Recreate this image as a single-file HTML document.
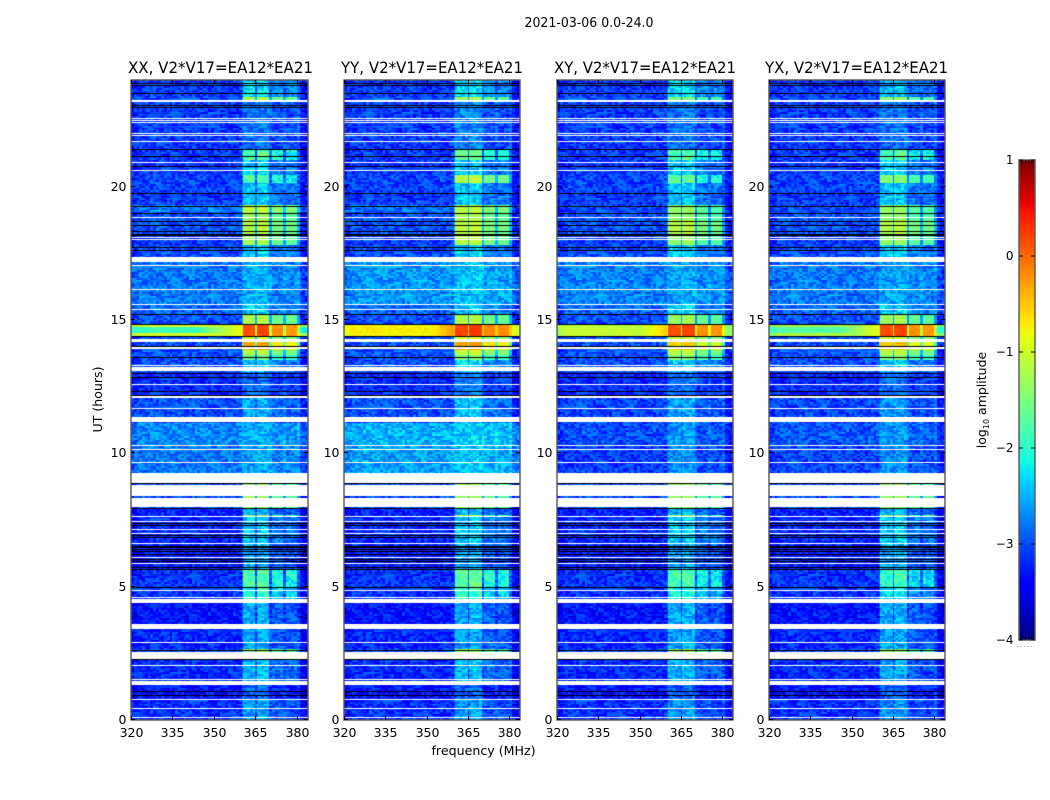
<!DOCTYPE html>
<html lang="en">
<head>
<meta charset="utf-8">
<title>2021-03-06 0.0-24.0</title>
<style>
html,body{margin:0;padding:0;background:#fff;}
#figure{position:relative;width:1050px;height:800px;overflow:hidden;background:#fff;font-family:"DejaVu Sans","Liberation Sans",sans-serif;}
canvas{position:absolute;display:block;}
svg{position:absolute;left:0;top:0;}
text{fill:#000;font-family:"DejaVu Sans","Liberation Sans",sans-serif;}
</style>
</head>
<body>
<div id="figure">
  <svg id="overlay" width="1050" height="800" viewBox="0 0 1050 800" xmlns="http://www.w3.org/2000/svg">
    <text x="589" y="27" font-size="13" text-anchor="middle" textLength="129" lengthAdjust="spacingAndGlyphs">2021-03-06 0.0-24.0</text>
    <text x="483.5" y="755" font-size="12.5" text-anchor="middle" textLength="104" lengthAdjust="spacingAndGlyphs">frequency (MHz)</text>
    <text transform="translate(102,399.5) rotate(-90)" font-size="12.5" text-anchor="middle" textLength="66" lengthAdjust="spacingAndGlyphs">UT (hours)</text>
    <text transform="translate(986,400) rotate(-90)" font-size="12.5" text-anchor="middle">log<tspan font-size="8" dy="3">10</tspan><tspan dy="-3"> amplitude</tspan></text>
    <line x1="1017" y1="646.5" x2="1035" y2="646.5" stroke="#999" stroke-width="1" stroke-dasharray="1 2.5"/>
  </svg>
</div>
<script>
// Axis values
const frequencyTicksMHz = [320, 335, 350, 365, 380];
const timeTicksHours = [0, 5, 10, 15, 20];
const colorbarTicks = [1, 0, -1, -2, -3, -4];
const polarizations = ['XX', 'YY', 'XY', 'YX'];

// Time bands: start hour of each band, and per-panel log10 amplitude of the quiet background
const bandStartHours = [0, .75, 1.3, 2.3, 2.65, 3.4, 4.4, 5, 5.65, 6.55, 7.6, 7.7, 7.94, 9.25, 10.3, 11.15, 12.19, 13.05, 13.5, 13.69, 13.88, 14.18, 14.4, 14.5, 14.75, 14.85, 15.2, 15.57, 17.37, 17.82, 18.2, 18.76, 19.06, 19.32, 19.89, 20.15, 20.45, 21, 21.39, 23.23, 23.38];
const backgroundXX = [-3.15, -3.3, -3.2, -3, -3.2, -3.3, -3.15, -3.15, -3.3, -3.2, -3.2, -3.25, -3, -2.8, -2.7, -3, -3.2, -3, -3, -3, -3, -3, -1, -1.9, -1, -3, -2.9, -2.8, -3, -3.1, -3, -3, -2.8, -3.1, -3.05, -3.05, -3.1, -3.1, -3.1, -3, -3.1];
const backgroundYY = [-3.15, -3.3, -3.2, -3, -3.2, -3.3, -3.15, -3.15, -3.3, -3.2, -3.2, -3.25, -3, -2.6, -2.5, -3, -3.2, -3, -3, -3, -3, -3, -.75, -.7, -.75, -3, -2.9, -2.65, -3, -3.1, -3, -3, -2.85, -3.1, -3.05, -3.05, -3.1, -3.1, -3.1, -3, -3.1];
const backgroundXY = [-3.15, -3.3, -3.2, -3, -3.2, -3.3, -3.15, -3.15, -3.3, -3.2, -3.2, -3.25, -3, -3.1, -3, -3.05, -3.2, -3, -3, -3, -3, -3, -1.05, -1.05, -1.15, -3, -2.9, -2.75, -3, -3.1, -3, -3, -3.05, -3.1, -3.05, -3.05, -3.1, -3.1, -3.1, -3, -3.1];
const backgroundYX = [-3.15, -3.3, -3.2, -3, -3.2, -3.3, -3.15, -3.15, -3.3, -3.2, -3.2, -3.25, -3, -3.05, -2.95, -3.05, -3.2, -3, -3, -3, -3, -3, -1.2, -1.75, -1.25, -3, -2.9, -2.8, -3, -3.1, -3, -3, -3.05, -3.1, -3.05, -3.05, -3.1, -3.1, -3.1, -3, -3.1];

// Per-panel log10 amplitude inside the bright 360-380 MHz subbands
const signalXX = [-2.6, -2.9, -2.5, -1.3, -2.6, -2.55, -2, -1.75, -2.6, -2.4, -1.3, -2.5, -1.3, -2.6, -2.55, -2.55, -2.9, -2.4, -1.6, -1.15, -.35, -1, .15, .15, .15, -1.2, -2.4, -2.55, -2.4, -1.25, -1.15, -1.3, -1.05, -2.45, -2.45, -1.8, -2.4, -1.75, -2.85, -1.2, -2.3];
const signalYY = [-2.6, -2.9, -2.5, -1.3, -2.6, -2.55, -2, -1.7, -2.6, -2.4, -1.3, -2.5, -1.3, -2.45, -2.4, -2.45, -2.8, -2.3, -1.5, -1.05, -.3, -.9, .2, .2, .2, -1.2, -2.4, -2.45, -2.4, -1.15, -1.1, -1.25, -1.1, -2.45, -2.45, -1.15, -2.4, -1.65, -2.75, -1.3, -2.3];
const signalXY = [-2.65, -2.9, -2.55, -1.3, -2.6, -2.55, -2.1, -1.85, -2.6, -2.4, -1.3, -2.5, -1.3, -2.7, -2.65, -2.6, -2.9, -2.4, -1.5, -1.15, -.55, -1, .15, .15, .15, -1.3, -2.4, -2.6, -2.4, -1.35, -1.15, -1.4, -1.35, -2.45, -2.45, -1.7, -2.4, -1.75, -2.85, -1.5, -2.35];
const signalYX = [-2.7, -2.9, -2.6, -1.4, -2.6, -2.55, -2.3, -1.95, -2.6, -2.4, -1.3, -2.5, -1.3, -2.7, -2.65, -2.65, -2.9, -2.45, -1.5, -1.15, -.5, -1, .15, .15, .15, -1.3, -2.4, -2.6, -2.4, -1.35, -1.15, -1.4, -1.35, -2.45, -2.45, -1.45, -2.4, -1.8, -2.85, -1.4, -2.5];

// Bright RFI subbands (MHz) with relative gain (dex)
const subbandStartMHz = [360.5, 365.7, 370.8, 376];
const subbandEndMHz = [365, 370, 375, 380];
const subbandGainDex = [0, .05, -.35, -.4];

// Background bandpass shape, one value per MHz from 320 to 383
const channelTiltDex = [-.15, -.1, -.05, 0, 0, 0, 0, .02, .03, .03, .03, .03, .02, .02, 0, 0, 0, 0, 0, 0, 0, 0, 0, 0, 0, 0, 0, 0, 0, 0, -.02, -.02, -.02, -.02, -.02, 0, 0, 0, 0, 0, .02, .04, .04, .04, .05, .05, .05, .05, .05, .05, .05, .05, .05, .05, .05, .05, .05, .05, .05, .05, -.1, -.2, -.3, -.3];

// Strong 14.4-14.85 h event: shoulder level per panel plus rise per MHz across 345-360 MHz
const eventStartHour = 14.4;
const eventEndHour = 14.85;
const shoulderLevel = [-.85, -.3, -.55, -.85];
const shoulderRampDex = [-.9, -.85, -.8, -.7, -.6, -.55, -.5, -.4, -.35, -.3, -.2, -.15, -.1, -.05, 0];

// Missing data (white) as start/end hour pairs
const gapStartHours = [.06, .42, .74, 1.3, 1.5, 2.03, 2.3, 2.88, 3.4, 4.39, 4.56, 4.84, 5.85, 6.07, 6.6, 6.97, 7.12, 7.41, 7.6, 7.97, 8.41, 8.89, 9.64, 10.14, 10.26, 11.18, 11.67, 12.07, 12.57, 13.1, 13.29, 13.93, 14.18, 15.36, 15.57, 16.14, 17.01, 17.17, 17.99, 18.07, 18.15, 18.82, 20.58, 20.89, 21.68, 21.9, 21.97, 22.38, 22.46, 22.55, 23.17];
const gapEndHours = [.1, .46, .8, 1.45, 1.55, 2.07, 2.55, 2.92, 3.61, 4.53, 4.61, 4.88, 5.89, 6.11, 6.64, 7.01, 7.16, 7.45, 7.64, 8.33, 8.83, 9.25, 9.68, 10.18, 10.3, 11.37, 11.71, 12.14, 12.61, 13.23, 13.33, 13.97, 14.29, 15.4, 15.61, 16.18, 17.05, 17.37, 18.03, 18.11, 18.19, 18.86, 20.62, 20.93, 21.72, 21.94, 22.01, 22.42, 22.5, 22.59, 23.25];

// Flagged rows that plot black
const darkRowHours = [.92, 1.07, 2.28, 2.64, 4.99, 5.65, 5.73, 5.97, 6.05, 6.24, 6.33, 6.4, 6.48, 6.53, 6.85, 6.93, 7.3, 7.38, 7.94, 8.87, 12.19, 12.34, 12.87, 13.03, 13.6, 14.04, 14.41, 14.85, 15.22, 17.63, 17.75, 18.2, 18.24, 18.35, 18.55, 18.73, 19.01, 19.29, 19.77, 20.76, 21.14, 21.43, 23, 23.08, 23.53, 23.83, 23.9];

// Hand-typed grain texture (dex) so the raster has visibility noise
const speckleDex = [.12, -.28, .05, .31, -.11, -.34, .22, .02, -.19, .35, -.06, -.25, .17, .29, -.31, .08, -.14, .26, -.03, -.22, .33, .1, -.36, .19, -.08, .04, .27, -.17, -.29, .14, .36, -.01, -.24, .07, .21, -.33, .16, -.12, .3, -.2, .01, .24, -.27, .11, -.05, .34, -.16, -.32, .18, .06, -.09, .28, -.23];

const figure = document.getElementById('figure');
const overlay = document.getElementById('overlay');
const NS = 'http://www.w3.org/2000/svg';
const backgrounds = [backgroundXX, backgroundYY, backgroundXY, backgroundYX];
const signals = [signalXX, signalYY, signalXY, signalYX];

const plotTop = 80;
const plotHeight = 640;
const panelLeft = [131, 344, 557, 769];
const panelWidth = [177, 176, 176, 176];
const titleCenter = [220.5, 432, 645, 856.5];
const titleWidth = [185, 182, 182, 183];
const freqMin = 320, freqMax = 384, hourMax = 24;
const rowCount = 640, columnCount = 128;
const levelMin = -4, levelMax = 1;

function yScale(hour) { return plotTop + plotHeight * (1 - hour / hourMax); }
function xScale(panel, freq) { return panelLeft[panel] + panelWidth[panel] * (freq - freqMin) / (freqMax - freqMin); }

function segment(x, pts) {
  for (let i = 1; i < pts.length; i++) {
    if (x <= pts[i][0]) {
      const a = pts[i - 1], b = pts[i];
      return a[1] + (b[1] - a[1]) * (x - a[0]) / (b[0] - a[0]);
    }
  }
  return pts[pts.length - 1][1];
}
function jet(t) {
  const u = Math.max(0, Math.min(1, t));
  const r = segment(u, [[0, 0], [.35, 0], [.66, 1], [.89, 1], [1, .5]]);
  const g = segment(u, [[0, 0], [.125, 0], [.375, 1], [.64, 1], [.91, 0], [1, 0]]);
  const b = segment(u, [[0, .5], [.11, 1], [.34, 1], [.65, 0], [1, 0]]);
  return 'rgb(' + Math.round(r * 255) + ',' + Math.round(g * 255) + ',' + Math.round(b * 255) + ')';
}
const palette = [];
for (let i = 0; i < 512; i++) palette.push(jet(i / 511));
function levelColor(level) {
  const t = (level - levelMin) / (levelMax - levelMin);
  return palette[Math.max(0, Math.min(511, Math.round(t * 511)))];
}

function bandIndex(hour) {
  let b = 0;
  for (let i = 0; i < bandStartHours.length; i++) if (hour >= bandStartHours[i]) b = i;
  return b;
}
function isGap(hour) {
  for (let i = 0; i < gapStartHours.length; i++) if (hour >= gapStartHours[i] && hour < gapEndHours[i]) return true;
  return false;
}
function cellLevel(panel, band, hour, freq, grain) {
  const tilt = channelTiltDex[Math.min(63, Math.floor(freq - freqMin))];
  const bg = backgrounds[panel][band];
  const sig = signals[panel][band];
  let level = bg + tilt + grain * (bg > -2 ? .25 : .85);
  let s = -99;
  if (freq >= 360 && freq < 381) {
    s = Math.max(sig - 1.3, bg + .2);
    for (let k = 0; k < subbandStartMHz.length; k++) {
      if (freq >= subbandStartMHz[k] && freq < subbandEndMHz[k]) s = sig + subbandGainDex[k];
    }
    s += grain * (sig > -1.7 ? .2 : .8);
  }
  if (hour >= eventStartHour && hour < eventEndHour && freq >= 345 && freq < 360) {
    const ramp = shoulderRampDex[Math.floor(freq - 345)];
    s = Math.max(s, shoulderLevel[panel] + ramp + grain * .15);
  }
  return Math.max(level, s);
}

function drawPanel(panel) {
  const left = panelLeft[panel], width = panelWidth[panel];
  const cv = document.createElement('canvas');
  cv.width = width;
  cv.height = plotHeight;
  cv.style.left = left + 'px';
  cv.style.top = plotTop + 'px';
  
  
  figure.insertBefore(cv, overlay);
  const ctx = cv.getContext('2d');
  ctx.fillStyle = '#fff';
  ctx.fillRect(0, 0, width, plotHeight);
  const hourStep = hourMax / rowCount;
  const freqStep = (freqMax - freqMin) / columnCount;
  for (let r = 0; r < rowCount; r++) {
    const hour = (r + .5) * hourStep;
    if (isGap(hour)) continue;
    const band = bandIndex(hour);
    const grainRow = Math.floor(r / 2);
    const y0 = Math.round(yScale(r * hourStep + hourStep)) - plotTop;
    const y1 = Math.round(yScale(r * hourStep)) - plotTop;
    for (let c = 0; c < columnCount; c++) {
      const freq = freqMin + (c + .5) * freqStep;
      const grainCol = Math.floor(c / 2);
      const grain = speckleDex[(grainRow * 17 + grainCol * 31 + ((grainRow * grainCol) % 7) * 11 + panel * 5) % speckleDex.length];
      const x0 = Math.round(xScale(panel, freqMin + c * freqStep)) - left;
      const x1 = Math.round(xScale(panel, freqMin + (c + 1) * freqStep)) - left;
      ctx.fillStyle = levelColor(cellLevel(panel, band, hour, freq, grain));
      ctx.fillRect(x0, y0, x1 - x0, y1 - y0);
    }
  }
  ctx.fillStyle = '#000';
  darkRowHours.forEach(function (hour) {
    ctx.fillRect(0, Math.round(yScale(hour)) - plotTop, width, 1);
  });
}

function svgEl(tag, attrs) {
  const el = document.createElementNS(NS, tag);
  Object.keys(attrs).forEach(function (k) { el.setAttribute(k, attrs[k]); });
  overlay.appendChild(el);
  return el;
}

function drawAxes(panel) {
  const left = panelLeft[panel], width = panelWidth[panel];
  const key = polarizations[panel].toLowerCase();
  const frame = svgEl('rect', { x: left, y: plotTop, width: width, height: plotHeight, fill: 'none', stroke: '#555', 'stroke-width': 1.4 });
  
  

  const title = svgEl('text', { x: titleCenter[panel], y: 73, 'font-size': 16, 'text-anchor': 'middle', textLength: titleWidth[panel], lengthAdjust: 'spacingAndGlyphs' });
  title.textContent = polarizations[panel] + ', V2*V17=EA12*EA21';
  
  

  frequencyTicksMHz.forEach(function (freq) {
    const x = Math.round(xScale(panel, freq)) + .5;
    const bottomTick = svgEl('line', { x1: x, x2: x, y1: plotTop + plotHeight, y2: plotTop + plotHeight - 4, stroke: '#000', 'stroke-width': 1 });
    
    
    const topTick = svgEl('line', { x1: x, x2: x, y1: plotTop, y2: plotTop + 4, stroke: '#000', 'stroke-width': 1 });
    
    
    const label = svgEl('text', { x: x, y: 737, 'font-size': 12.5, 'text-anchor': 'middle' });
    label.textContent = String(freq);
    
    
  });

  timeTicksHours.forEach(function (hour) {
    const y = Math.round(yScale(hour)) - .5;
    const leftTick = svgEl('line', { x1: left, x2: left + 4, y1: y, y2: y, stroke: '#000', 'stroke-width': 1 });
    
    
    const rightTick = svgEl('line', { x1: left + width, x2: left + width - 4, y1: y, y2: y, stroke: '#000', 'stroke-width': 1 });
    
    
    const label = svgEl('text', { x: left - 4.5, y: y + 4.5, 'font-size': 12.5, 'text-anchor': 'end' });
    label.textContent = String(hour);
    
    
  });
}

function drawColorbar() {
  const barLeft = 1019, barWidth = 16, barTop = 160, barHeight = 480;
  function barY(level) { return barTop + barHeight * (levelMax - level) / (levelMax - levelMin); }
  const cv = document.createElement('canvas');
  cv.width = barWidth;
  cv.height = barHeight;
  cv.style.left = barLeft + 'px';
  cv.style.top = barTop + 'px';
  
  
  figure.insertBefore(cv, overlay);
  const ctx = cv.getContext('2d');
  for (let r = 0; r < barHeight; r++) {
    ctx.fillStyle = levelColor(levelMax - (r + .5) / barHeight * (levelMax - levelMin));
    ctx.fillRect(0, r, barWidth, 1);
  }
  const frame = svgEl('rect', { x: barLeft, y: barTop, width: barWidth, height: barHeight, fill: 'none', stroke: '#555', 'stroke-width': 1.4 });
  
  
  colorbarTicks.forEach(function (level) {
    const y = Math.round(barY(level));
    const a = svgEl('line', { x1: barLeft, x2: barLeft + 4, y1: y, y2: y, stroke: '#000', 'stroke-width': 1 });
    
    
    const b = svgEl('line', { x1: barLeft + barWidth, x2: barLeft + barWidth - 4, y1: y, y2: y, stroke: '#000', 'stroke-width': 1 });
    
    
    const label = svgEl('text', { x: barLeft - 5.5, y: y + 4, 'font-size': 12, 'text-anchor': 'end' });
    label.textContent = String(level).replace('-', '\u2212');
    
    
  });
  for (let i = 1; i < 5; i++) {
    const x = barLeft + barWidth * i / 5;
    const top = svgEl('line', { x1: x, x2: x, y1: barTop, y2: barTop + 4, stroke: '#000', 'stroke-width': .8 });
    
    
    const bottom = svgEl('line', { x1: x, x2: x, y1: barTop + barHeight, y2: barTop + barHeight - 4, stroke: '#000', 'stroke-width': .8 });
    
    
  }
}

polarizations.forEach(function (p, i) {
  drawPanel(i);
  drawAxes(i);
});
drawColorbar();
</script>
</body>
</html>
